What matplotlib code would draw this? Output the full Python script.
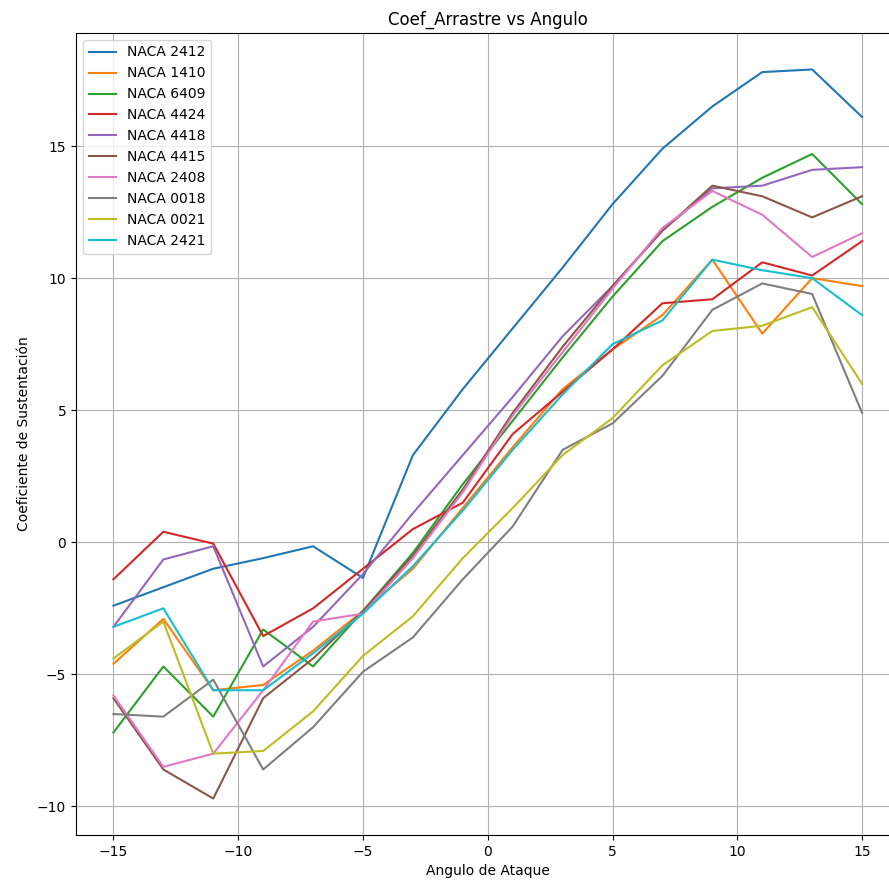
import numpy as np
import matplotlib
matplotlib.use("Agg")
import matplotlib.pyplot as plt

angulos = [-15, -13, -11, -9, -7, -5, -3, -1, 1, 3, 5, 7, 9, 11, 13, 15]

perfiles = ["NACA 2412", "NACA 1410", "NACA 6409", "NACA 4424", "NACA 4418",
            "NACA 4415", "NACA 2408", "NACA 0018", "NACA 0021", "NACA 2421"]

naca_2412 = [-2.4, -1.7, -1.0, -0.6, -0.15, -1.35, 3.3, 5.8, 8.1, 10.4, 12.8, 14.9, 16.5, 17.8, 17.9, 16.1]
naca_1410 = [-4.6, -2.9, -5.6, -5.4, -4.1, -2.6, -1.0, 1.3, 3.6, 5.8, 7.3, 8.6, 10.7, 7.9, 10.0, 9.7]
naca_6409 = [-7.2, -4.7, -6.6, -3.3, -4.7, -2.6, -0.4, 2.2, 4.6, 7.0, 9.3, 11.4, 12.7, 13.8, 14.7, 12.8]
naca_4424 = [-1.4, 0.4, -0.05, -3.55, -2.5, -1.0, 0.5, 1.5, 4.1, 5.7, 7.3, 9.05, 9.2, 10.6, 10.1, 11.4]
naca_4418 = [-3.2, -0.65, -0.15, -4.7, -3.2, -1.2, 1.1, 3.3, 5.5, 7.8, 9.7, 11.8, 13.4, 13.5, 14.1, 14.2]
naca_4415 = [-5.9, -8.6, -9.7, -5.9, -4.4, -2.6, -0.5, 2.0, 4.9, 7.4, 9.7, 11.8, 13.5, 13.1, 12.3, 13.1]
naca_2408 = [-5.8, -8.5, -8.0, -5.6, -3.0, -2.7, -0.6, 1.9, 4.8, 7.2, 9.6, 11.9, 13.3, 12.4, 10.8, 11.7]
naca_0018 = [-6.5, -6.6, -5.2, -8.6, -7.0, -4.9, -3.6, -1.4, 0.6, 3.5, 4.5, 6.3, 8.8, 9.8, 9.4, 4.9]
naca_0021 = [-4.4, -3.0, -8.0, -7.9, -6.4, -4.3, -2.8, -0.6, 1.3, 3.3, 4.7, 6.7, 8.0, 8.2, 8.9, 6.0]
naca_2421 = [-3.2, -2.5, -5.6, -5.6, -4.2, -2.7, -0.9, 1.2, 3.5, 5.6, 7.5, 8.4, 10.7, 10.3, 10.0, 8.6]

series = [naca_2412, naca_1410, naca_6409, naca_4424, naca_4418,
          naca_4415, naca_2408, naca_0018, naca_0021, naca_2421]

fig = plt.figure(figsize=(8.89, 8.86), dpi=100)
# the original screenshot is cut off on the right side
ax = fig.add_axes([76 / 889, 1 - 835 / 886, (899.5 - 76) / 889, (835 - 33) / 886])

for nombre, valores in zip(perfiles, series):
    ax.plot(angulos, valores, label=nombre)

ax.set_title("Coef_Arrastre vs Angulo")
ax.set_xlabel("Angulo de Ataque")
ax.set_ylabel("Coeficiente de Sustentación")
ax.grid(True)
ax.legend(loc="upper left")

fig.savefig("out.png", dpi=100)
